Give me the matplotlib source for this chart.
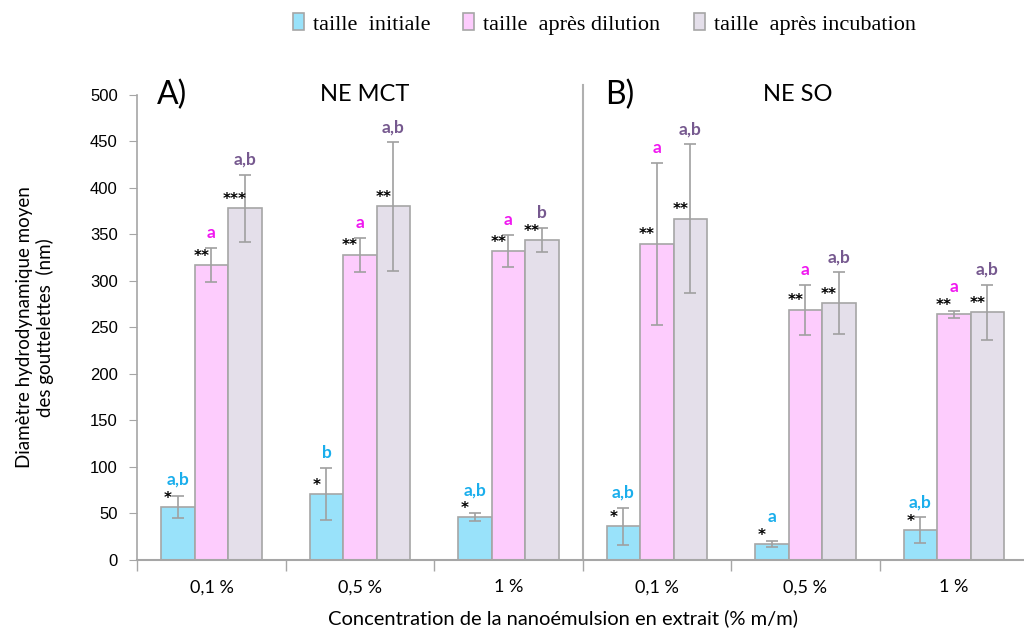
import matplotlib
matplotlib.use("Agg")
import matplotlib.pyplot as plt
import numpy as np

# six concentration groups: 3 for NE MCT (A), 3 for NE SO (B)
concentrations = ["0,1 %", "0,5 %", "1 %", "0,1 %", "0,5 %", "1 %"]
series_names = ["taille  initiale", "taille  après dilution", "taille  après incubation"]

initiale = [57, 71, 46, 36, 17, 32]
initiale_err = [12, 28, 4, 20, 3, 14]
dilution = [317, 328, 332, 340, 269, 264]
dilution_err = [18, 18, 17, 87, 27, 4]
incubation = [378, 380, 344, 367, 276, 266]
incubation_err = [36, 69, 13, 80, 33, 30]

stars_initiale = ["*", "*", "*", "*", "*", "*"]
stars_dilution = ["**", "**", "**", "**", "**", "**"]
stars_incubation = ["***", "**", "**", "**", "**", "**"]
letters_initiale = ["a,b", "b", "a,b", "a,b", "a", "a,b"]
letters_dilution = ["a", "a", "a", "a", "a", "a"]
letters_incubation = ["a,b", "a,b", "b", "a,b", "a,b", "a,b"]

colors = ["#99e2fa", "#fdccfd", "#e4dfea"]
letter_colors = ["#1aaeec", "#f018f0", "#76598f"]
edge = "#a6a6a6"
err_col = "#a0a0a0"

fig = plt.figure(figsize=(10.24, 6.32), dpi=100)
ax = fig.add_axes([0.134, 0.114, 0.87, 0.736])

x = np.arange(len(concentrations))
w = 0.226
groups = [
    (initiale, initiale_err, stars_initiale, letters_initiale),
    (dilution, dilution_err, stars_dilution, letters_dilution),
    (incubation, incubation_err, stars_incubation, letters_incubation),
]
handles = []
for i, (vals, errs, stars, lets) in enumerate(groups):
    pos = x + (i - 1) * w
    b = ax.bar(pos, vals, w, color=colors[i], edgecolor=edge, linewidth=1.2,
               label=series_names[i], zorder=2)
    handles.append(b)
    ax.errorbar(pos, vals, yerr=errs, fmt="none", ecolor=err_col,
                elinewidth=1.2, capsize=4, capthick=1.2, zorder=3)
    for p, v, e, s, l in zip(pos, vals, errs, stars, lets):
        ax.annotate(s, (p - 0.3 * w, v), xytext=(0, 1), textcoords="offset points",
                    ha="center", va="bottom", fontsize=11, fontweight="bold",
                    color="black", zorder=4)
        # keep the letter clear of the stars when the error bar is short
        ytop = max(v + e, v + 13)
        ax.annotate(l, (p, ytop), xytext=(0, 5), textcoords="offset points",
                    ha="center", va="bottom", fontsize=12.5, fontweight="bold",
                    color=letter_colors[i], family="Lato", zorder=4)

ax.set_xlim(-0.5, 5.5)
ax.set_ylim(0, 500)
ax.set_yticks(np.arange(0, 501, 50))
ax.tick_params(axis="y", labelsize=12, length=6, color="#a6a6a6", pad=8)
for t in ax.get_yticklabels():
    t.set_family("Liberation Sans")
    t.set_color("black")

ax.set_xticks(x)
ax.set_xticklabels(concentrations, family="Lato", fontsize=13)
ax.tick_params(axis="x", which="major", length=0, pad=14)
ax.set_xticks(np.arange(-0.5, 5.6, 1.0), minor=True)
ax.tick_params(axis="x", which="minor", length=8, color="#a6a6a6", width=1)

for side in ["top", "right"]:
    ax.spines[side].set_visible(False)
ax.spines["left"].set_color("#a6a6a6")
ax.spines["bottom"].set_color("#a6a6a6")
ax.spines["left"].set_linewidth(1.2)
ax.spines["bottom"].set_linewidth(1.5)

# divider between the two panels
ax.plot([2.5, 2.5], [0, 510], color="#b0b0b0", lw=1.5, clip_on=False, zorder=1)

ax.text(-0.37, 500, "A)", fontsize=23, family="Lato", va="center", ha="left")
ax.text(1.03, 500, "NE MCT", fontsize=17, family="Lato", va="center", ha="center")
ax.text(2.65, 500, "B)", fontsize=23, family="Lato", va="center", ha="left")
ax.text(3.95, 500, "NE SO", fontsize=17, family="Lato", va="center", ha="center")

ax.set_ylabel("Diamètre hydrodynamique moyen\ndes gouttelettes  (nm)",
              family="Lato", fontsize=13.5, linespacing=1.25)
ax.yaxis.set_label_coords(-0.093, 0.5)
ax.set_xlabel("Concentration de la nanoémulsion en extrait (% m/m)",
              family="Lato", fontsize=14.5)
ax.xaxis.set_label_coords(0.478, -0.105)

fig.legend(handles=handles, labels=series_names, loc="center",
           bbox_to_anchor=(0.590, 0.962), ncol=3, frameon=False,
           prop={"family": "Liberation Serif", "size": 16},
           handlelength=0.5, handleheight=0.8, handletextpad=0.4,
           columnspacing=1.5)

fig.savefig("out.png", dpi=100)
